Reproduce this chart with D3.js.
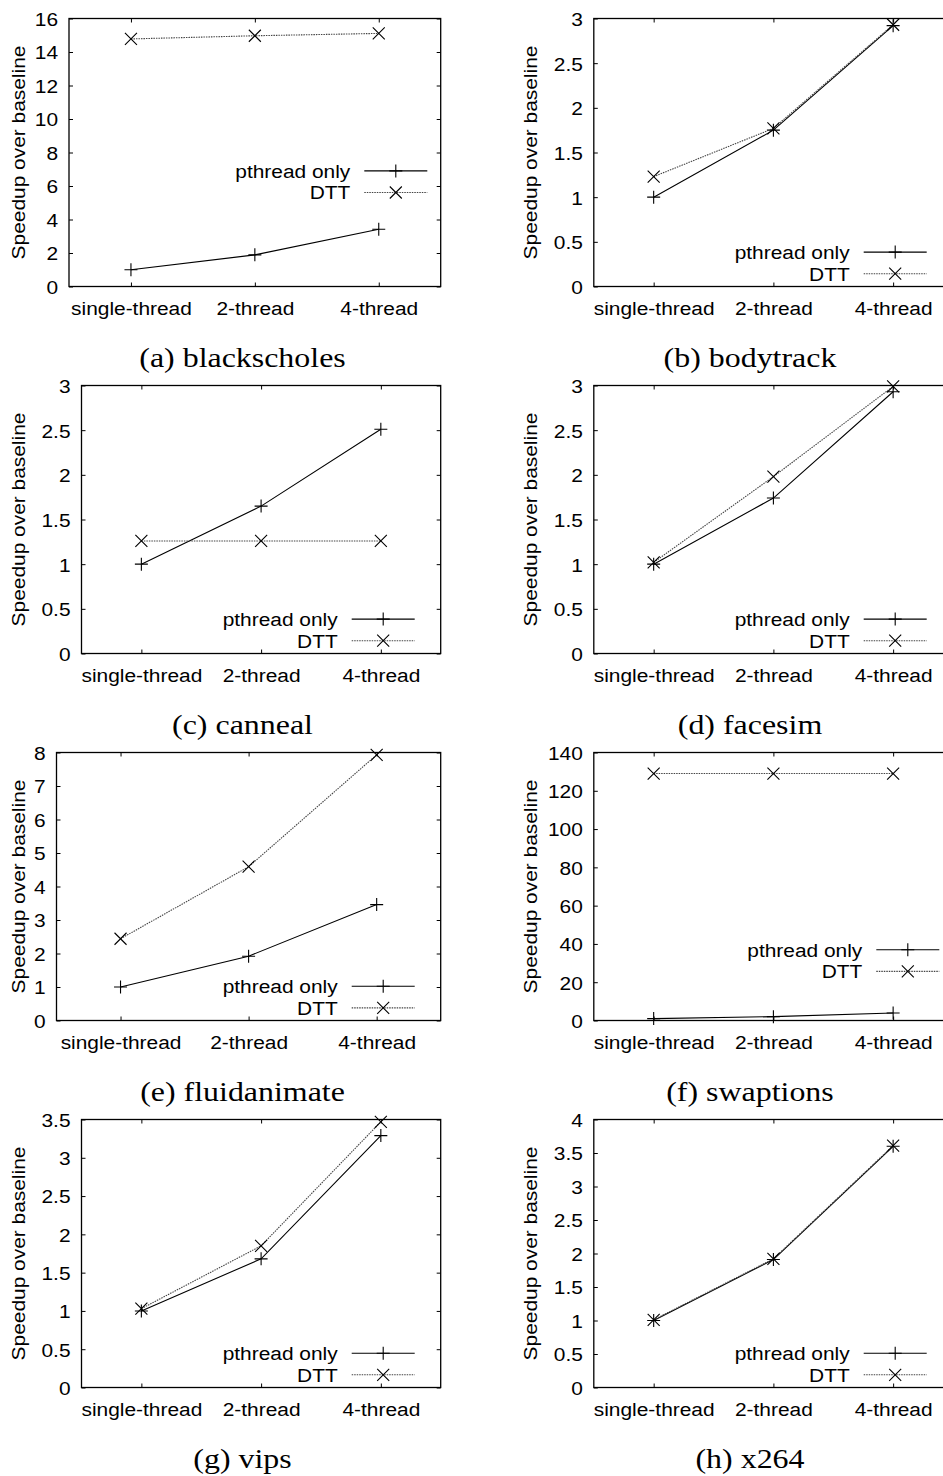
<!DOCTYPE html>
<html>
<head>
<meta charset="utf-8">
<script src="https://cdn.jsdelivr.net/npm/d3@7"></script>
<style>
  html, body { margin: 0; padding: 0; background: #fff; }
  svg { display: block; }
</style>
</head>
<body>
<script>
// Speedup of each PARSEC benchmark over the baseline, per thread count.
const categories = ["single-thread", "2-thread", "4-thread"];
const seriesNames = ["pthread only", "DTT"];
const captions = [
  "(a) blackscholes", "(b) bodytrack", "(c) canneal", "(d) facesim",
  "(e) fluidanimate", "(f) swaptions", "(g) vips", "(h) x264"
];
const pthreadOnly = [
  [1.00, 1.89, 3.42],
  [1.00, 1.75, 2.92],
  [1.00, 1.65, 2.51],
  [1.00, 1.74, 2.93],
  [1.00, 1.92, 3.46],
  [1.00, 2.00, 3.90],
  [1.00, 1.68, 3.29],
  [1.00, 1.91, 3.60]
];
const dtt = [
  [14.78, 14.97, 15.11],
  [1.23, 1.77, 2.93],
  [1.26, 1.26, 1.26],
  [1.02, 1.98, 2.99],
  [2.44, 4.59, 7.93],
  [129, 129, 129],
  [1.03, 1.85, 3.47],
  [1.01, 1.92, 3.61]
];
const yMax = [16, 3, 3, 3, 8, 140, 3.5, 4];
const yStep = [2, 0.5, 0.5, 0.5, 1, 20, 0.5, 0.5];
const yTitle = "Speedup over baseline";

// ---- layout ----
const W = 943, H = 1476;
const colX = [0, 512.3];
const rowTop = [18.5, 385.5, 752.5, 1119.5];
const plotH = 268;
const captionX = [242.5, 750];
const SX = 1.1;            // horizontal glyph stretch of the sans labels
const SANS = "'Liberation Sans', Arial, sans-serif";
const SERIF = "'Liberation Serif', 'Times New Roman', serif";
const FS = 19;
const TICK = 4;
// key placement: distance of the sample line's right end from the plot's
// right edge, and the first row's offset from the top or bottom edge
const keyPlace = [
  { end: 13.4, from: "top", off: 152.4 },
  { end: 26.3, from: "bottom", off: 34.4 },
  { end: 26.0, from: "bottom", off: 34.4 },
  { end: 26.3, from: "bottom", off: 34.4 },
  { end: 26.0, from: "bottom", off: 34.2 },
  { end: 13.7, from: "top", off: 197.3 },
  { end: 26.0, from: "bottom", off: 34.3 },
  { end: 26.3, from: "bottom", off: 34.3 }
];

const plusPath = "M-6.5,0H6.5M0,-6.5V6.5";
const crossPath = "M-6,-6L6,6M-6,6L6,-6";
const seriesStyle = [
  { stroke: "#000", dash: null, marker: plusPath },
  { stroke: "#444", dash: "1.5,1", marker: crossPath }
];

const svg = d3.select("body").append("svg")
  .attr("width", W).attr("height", H)
  .attr("viewBox", `0 0 ${W} ${H}`);

svg.append("rect").attr("width", W).attr("height", H).attr("fill", "#fff");

const fmt = d3.format("~g");

captions.forEach((cap, i) => {
  const col = i % 2, row = Math.floor(i / 2);
  const ticks = d3.range(0, yMax[i] + yStep[i] / 2, yStep[i]);
  const nChars = d3.max(ticks, t => fmt(t).length);
  const left = colX[col] + 44 + 12.5 * nChars;
  const right = colX[col] + 440.7;
  const top = rowTop[row];
  const bottom = top + plotH;

  const x = d3.scalePoint().domain(categories).range([left, right]).padding(0.5);
  const y = d3.scaleLinear().domain([0, yMax[i]]).range([bottom, top]);

  const g = svg.append("g");

  const styleAxis = sel => {
    sel.select(".domain").remove();
    sel.attr("font-family", SANS).attr("font-size", FS);
    sel.selectAll(".tick line").attr("stroke", "#000").attr("stroke-width", 1);
  };

  // left axis with labels
  g.append("g")
    .attr("transform", `translate(${left},0)`)
    .call(d3.axisLeft(y).tickValues(ticks).tickFormat(fmt)
      .tickSizeInner(-TICK).tickSizeOuter(0).tickPadding(11))
    .call(styleAxis)
    .call(s => s.selectAll(".tick text")
      .attr("fill", "#000")
      .attr("x", -11 / SX)
      .attr("dy", "0.36em")
      .attr("transform", `scale(${SX},1)`));

  // mirrored right ticks
  g.append("g")
    .attr("transform", `translate(${right},0)`)
    .call(d3.axisRight(y).tickValues(ticks).tickFormat("")
      .tickSizeInner(-TICK).tickSizeOuter(0))
    .call(styleAxis);

  // bottom axis with category labels
  g.append("g")
    .attr("transform", `translate(0,${bottom})`)
    .call(d3.axisBottom(x).tickSizeInner(-TICK).tickSizeOuter(0))
    .call(styleAxis)
    .call(s => s.selectAll(".tick text")
      .attr("fill", "#000")
      .attr("y", 28.5)
      .attr("dy", null)
      .attr("transform", `scale(${SX},1)`));

  // mirrored top ticks
  g.append("g")
    .attr("transform", `translate(0,${top})`)
    .call(d3.axisTop(x).tickFormat("").tickSizeInner(-TICK).tickSizeOuter(0))
    .call(styleAxis);

  // y axis title
  g.append("text")
    .attr("transform", `translate(${colX[col] + 24.5},${(top + bottom) / 2}) rotate(-90) scale(${SX},1)`)
    .attr("text-anchor", "middle")
    .attr("font-family", SANS).attr("font-size", FS)
    .attr("fill", "#000")
    .text(yTitle);

  // series lines and point markers
  const line = d3.line().x((d, j) => x(categories[j])).y(d => y(d));
  [pthreadOnly[i], dtt[i]].forEach((vals, s) => {
    const st = seriesStyle[s];
    g.append("path")
      .attr("d", line(vals))
      .attr("fill", "none")
      .attr("stroke", st.stroke)
      .attr("stroke-width", 1.1)
      .attr("stroke-dasharray", st.dash);
    g.selectAll(null).data(vals).join("path")
      .attr("transform", (d, j) => `translate(${x(categories[j])},${y(d)})`)
      .attr("d", st.marker)
      .attr("fill", "none")
      .attr("stroke", "#000")
      .attr("stroke-width", 1.1);
  });

  // key
  const kp = keyPlace[i];
  const lineEnd = right - kp.end;
  const lineStart = lineEnd - 63;
  const row0 = kp.from === "top" ? top + kp.off : bottom - kp.off;
  seriesNames.forEach((name, s) => {
    const ky = row0 + s * 21.6;
    const st = seriesStyle[s];
    g.append("text")
      .attr("transform", `translate(${lineStart - 14},${ky}) scale(${SX},1)`)
      .attr("dy", "0.36em")
      .attr("text-anchor", "end")
      .attr("font-family", SANS).attr("font-size", FS)
      .attr("fill", "#000")
      .text(name);
    g.append("line")
      .attr("x1", lineStart).attr("x2", lineEnd)
      .attr("y1", ky).attr("y2", ky)
      .attr("stroke", st.stroke)
      .attr("stroke-width", 1.1)
      .attr("stroke-dasharray", st.dash);
    g.append("path")
      .attr("transform", `translate(${(lineStart + lineEnd) / 2},${ky})`)
      .attr("d", st.marker)
      .attr("fill", "none")
      .attr("stroke", "#000")
      .attr("stroke-width", 1.1);
  });

  // plot border
  g.append("rect")
    .attr("x", left).attr("y", top)
    .attr("width", right - left).attr("height", bottom - top)
    .attr("fill", "none")
    .attr("stroke", "#000")
    .attr("stroke-width", 1.3);

  // caption
  g.append("text")
    .attr("transform", `translate(${captionX[col]},${bottom + 80}) scale(1.14,1)`)
    .attr("text-anchor", "middle")
    .attr("font-family", SERIF).attr("font-size", 28)
    .attr("fill", "#000")
    .text(cap);
});
</script>
</body>
</html>
